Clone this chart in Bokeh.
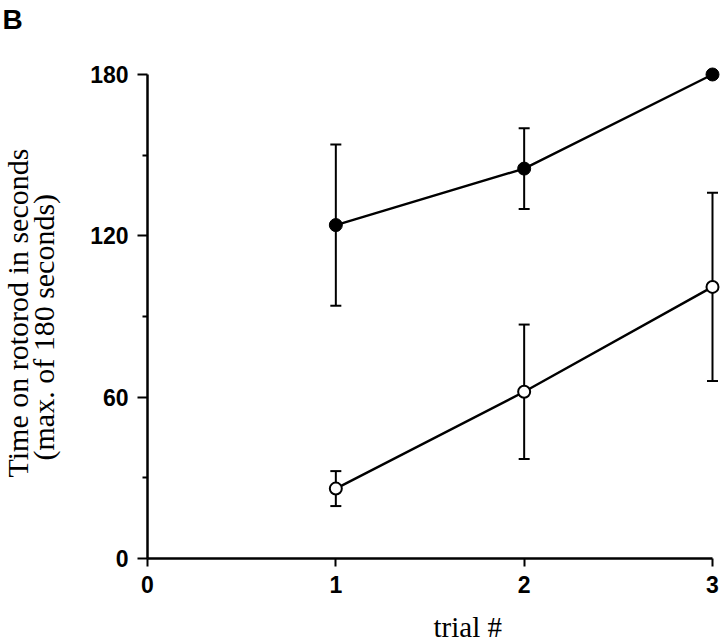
from bokeh.plotting import figure
from bokeh.models import Range1d, FixedTicker, Whisker, ColumnDataSource, TeeHead, Title
from bokeh.embed import file_html
from bokeh.resources import INLINE

# data
trials = [1, 2, 3]
filled_mean = [124, 145, 180]
filled_err = [30, 15, 0]
open_mean = [26, 62, 101]
open_err = [6.5, 25, 35]
y_ticks = [0, 60, 120, 180]
y_minor = [30, 90, 150]
x_ticks = [0, 1, 2, 3]

p = figure(width=720, height=642, output_backend="svg", toolbar_location=None,
           x_range=Range1d(0, 3.0425), y_range=Range1d(0, 182.97),
           min_border_left=147, min_border_right=0, min_border_top=66, min_border_bottom=84)
p.outline_line_color = None
p.grid.visible = False
p.background_fill_color = "white"
p.title.text = ""

for ax in (p.xaxis[0], p.yaxis[0]):
    ax.axis_line_width = 2.5
    ax.axis_line_color = "black"
    ax.major_tick_line_width = 2
    ax.major_tick_line_color = "black"
    ax.major_tick_in = 0
    ax.major_label_text_font = "Liberation Sans"
    ax.major_label_text_font_style = "bold"
    ax.major_label_text_font_size = "23px"
    ax.major_label_text_color = "black"

p.xaxis.bounds = (0, 3)
p.yaxis.bounds = (0, 180)
p.xaxis.ticker = FixedTicker(ticks=x_ticks)
p.yaxis.ticker = FixedTicker(ticks=y_ticks, minor_ticks=y_minor)
p.xaxis.major_tick_out = 8
p.yaxis.major_tick_out = 10
p.xaxis.minor_tick_line_color = None
p.xaxis.minor_tick_out = 0
p.yaxis.minor_tick_out = 5
p.yaxis.minor_tick_in = 0
p.yaxis.minor_tick_line_width = 2
p.yaxis.minor_tick_line_color = "black"
p.xaxis.major_label_standoff = 9
p.yaxis.major_label_standoff = 9


def spacer(size):
    # a white, nearly zero-height title used only to reserve panel space
    return Title(text="\u00a0", text_font_size="1px", standoff=size - 1,
                 text_color="white")


def serif_title(text, align_offset, standoff, valign, size="30px"):
    return Title(text=text, align="left", offset=align_offset, standoff=standoff,
                 vertical_align=valign, text_font="Liberation Serif",
                 text_font_style="normal", text_font_size=size, text_color="black")


# top: "B"
p.add_layout(spacer(30), "above")
p.add_layout(Title(text="B", align="left", offset=-145, standoff=0, vertical_align="bottom",
                   text_font="Liberation Sans", text_font_style="bold",
                   text_font_size="28px", text_color="black"), "above")

# left: two-line axis title
p.add_layout(spacer(26), "left")
p.add_layout(serif_title("(max. of 180 seconds)", 98, 0, "bottom"), "left")
p.add_layout(serif_title("Time on rotorod in seconds", 81, -19, "bottom"), "left")

# bottom: "trial #"
p.add_layout(spacer(15), "below")
p.add_layout(serif_title("trial #", 286, -4, "top", "29px"), "below")

fs = ColumnDataSource(dict(x=trials, y=filled_mean,
                           lo=[m - e for m, e in zip(filled_mean, filled_err)],
                           hi=[m + e for m, e in zip(filled_mean, filled_err)]))
os_ = ColumnDataSource(dict(x=trials, y=open_mean,
                            lo=[m - e for m, e in zip(open_mean, open_err)],
                            hi=[m + e for m, e in zip(open_mean, open_err)]))

for src in (fs, os_):
    w = Whisker(base="x", lower="lo", upper="hi", source=src, level="underlay",
                line_width=2, line_color="black",
                upper_head=TeeHead(size=11, line_width=2, line_color="black"),
                lower_head=TeeHead(size=11, line_width=2, line_color="black"))
    p.add_layout(w)

p.line("x", "y", source=fs, line_width=2.4, line_color="black")
p.line("x", "y", source=os_, line_width=2.4, line_color="black")
p.scatter("x", "y", source=fs, size=13, fill_color="black", line_color="black", line_width=1)
p.scatter("x", "y", source=os_, size=12, fill_color="white", line_color="black", line_width=2)

open("out.html", "w").write(file_html(p, INLINE))
